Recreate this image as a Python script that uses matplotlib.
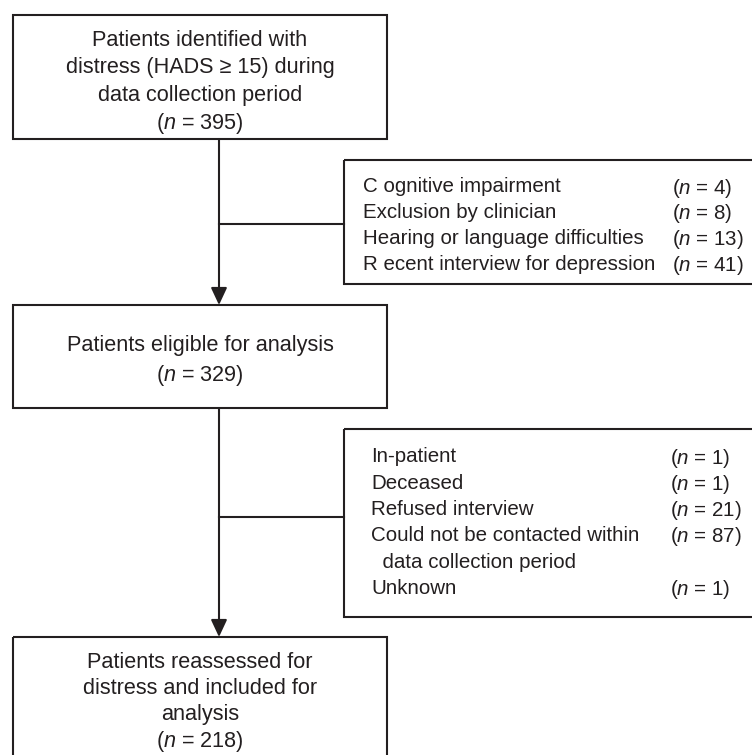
"""Flow diagram of patient selection -> out.png"""
import matplotlib
matplotlib.use("Agg")
import matplotlib.pyplot as plt
from matplotlib.patches import Rectangle, FancyArrowPatch

plt.rcParams["font.family"] = ["Liberation Sans", "DejaVu Sans"]
plt.rcParams["mathtext.fontset"] = "custom"
plt.rcParams["mathtext.rm"] = "Liberation Sans"
plt.rcParams["mathtext.it"] = "Liberation Sans:italic"

# ---- content ----
box1_lines = ["Patients identified with", "distress (HADS \u2265 15) during",
              "data collection period", "($n$ = 395)"]
box2_lines = ["Patients eligible for analysis", "($n$ = 329)"]
box3_lines = ["Patients reassessed for", "distress and included for",
              "analysis", "($n$ = 218)"]

excl1_labels = ["C ognitive impairment", "Exclusion by clinician",
                "Hearing or language difficulties", "R ecent interview for depression"]
excl1_counts = [4, 8, 13, 41]

excl2_labels = ["In-patient", "Deceased", "Refused interview",
                "Could not be contacted within", "  data collection period", "Unknown"]
excl2_counts = [1, 1, 21, 87, None, 1]

INK = "#231f20"
FS_MAIN = 15.6
FS_LIST = 14.8
LH = 27  # line height in px

fig = plt.figure(figsize=(7.52, 7.55), dpi=100)
ax = fig.add_axes([0, 0, 1, 1])
ax.set_xlim(0, 752); ax.set_ylim(755, 0); ax.axis("off")


def box(x0, y0, x1, y1):
    ax.add_patch(Rectangle((x0, y0), x1 - x0, y1 - y0, fill=False,
                           edgecolor=INK, linewidth=1.5, clip_on=False))


def centered(lines, cx, cy, lh=LH):
    n = len(lines)
    for i, t in enumerate(lines):
        ax.text(cx, cy + (i - (n - 1) / 2) * lh, t, ha="center", va="center_baseline",
                fontsize=FS_MAIN, color=INK)


def listing(labels, counts, x, xn, y0, lh=26):
    for i, (lab, c) in enumerate(zip(labels, counts)):
        y = y0 + i * lh
        ax.text(x, y, lab, ha="left", va="center_baseline", fontsize=FS_LIST, color=INK)
        if c is not None:
            ax.text(xn, y, f"($n$ = {c})", ha="left", va="center_baseline",
                    fontsize=FS_LIST, color=INK)


def arrow(x, y0, y1):
    ax.add_patch(FancyArrowPatch((x, y0), (x, y1), arrowstyle="-|>,head_length=0.75,head_width=0.35",
                                 mutation_scale=14, linewidth=1.5, color=INK,
                                 shrinkA=0, shrinkB=0))


# main boxes
box(13, 15, 387, 139)
centered(box1_lines, 200, 79)
box(13, 305, 387, 408)
centered(box2_lines, 200, 357, lh=29)
box(13, 637, 387, 760)
centered(box3_lines, 200, 699, lh=26)

# main flow
cx = 219
arrow(cx, 139, 305)
arrow(cx, 408, 637)

# exclusion boxes
box(344, 160, 760, 284)
listing(excl1_labels, excl1_counts, 363, 672, 185, lh=25.7)
ax.plot([cx, 344], [224, 224], color=INK, linewidth=1.5)

box(344, 429, 760, 617)
listing(excl2_labels, excl2_counts, 371, 670, 455, lh=26.3)
ax.plot([cx, 344], [517, 517], color=INK, linewidth=1.5)

fig.savefig("out.png", dpi=100)
